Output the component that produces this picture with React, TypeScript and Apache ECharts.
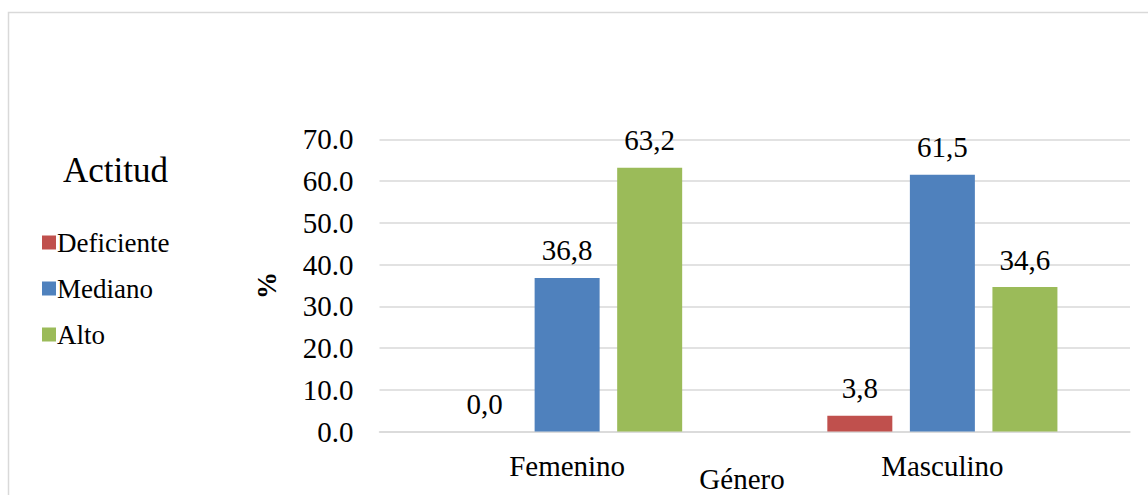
import React, { useEffect, useRef } from "react";
import * as echarts from "echarts";

const categories = ["Femenino", "Masculino"];
const seriesNames = ["Deficiente", "Mediano", "Alto"];
const deficiente = [0.0, 3.8];
const mediano = [36.8, 61.5];
const alto = [63.2, 34.6];
const seriesColors = ["#C0504D", "#4F81BD", "#9BBB59"];
const yMin = 0;
const yMax = 70;
const yStep = 10;

const FONT = "Liberation Serif";

export default function App() {
  const ref = useRef<HTMLDivElement>(null);

  useEffect(() => {
    if (!ref.current) return;
    const chart = echarts.init(ref.current, null, { renderer: "svg" });
    const values = [deficiente, mediano, alto];

    chart.setOption({
      animation: false,
      backgroundColor: "#ffffff",
      textStyle: { fontFamily: FONT, color: "#000" },
      title: {
        text: "Actitud",
        left: 58,
        top: 148,
        textStyle: { fontFamily: FONT, fontSize: 35, fontWeight: "normal", color: "#000" },
      },
      legend: {
        orient: "vertical",
        left: 37,
        top: 224,
        itemWidth: 14,
        itemHeight: 14,
        itemGap: 19,
        icon: "rect",
        data: seriesNames,
        textStyle: { fontFamily: FONT, fontSize: 27, color: "#000", padding: [0, 0, 0, -4] },
      },
      graphic: [
        {
          type: "rect",
          shape: { x: 8.5, y: 12.5, width: 1200, height: 600 },
          style: { fill: "none", stroke: "#d9d9d9", lineWidth: 1.5 },
          silent: true,
          z: -10,
        },
        {
          type: "text",
          x: 742,
          y: 479,
          style: {
            text: "Género",
            fontFamily: FONT,
            fontSize: 29,
            fill: "#000",
            align: "center",
            verticalAlign: "middle",
          },
        },
      ],
      grid: { left: 379.5, top: 139.3, width: 750.5, height: 292.2, containLabel: false },
      xAxis: {
        type: "category",
        data: categories,
        axisLine: { lineStyle: { color: "#d9d9d9", width: 1.5 } },
        axisTick: { show: false },
        axisLabel: { fontFamily: FONT, fontSize: 29, color: "#000", margin: 20 },
      },
      yAxis: {
        type: "value",
        min: yMin,
        max: yMax,
        interval: yStep,
        name: "%",
        nameLocation: "middle",
        nameRotate: 90,
        nameGap: 99,
        nameTextStyle: { fontFamily: FONT, fontSize: 27, fontWeight: "bold", color: "#000" },
        axisLine: { show: false },
        axisTick: { show: false },
        splitLine: { lineStyle: { color: "#d9d9d9", width: 1.5 } },
        axisLabel: {
          fontFamily: FONT,
          fontSize: 29,
          color: "#000",
          margin: 26,
          formatter: (v: number) => v.toFixed(1),
        },
      },
      series: seriesNames.map((name, i) => ({
        name,
        type: "bar",
        data: values[i],
        barWidth: 65,
        barGap: "27%",
        itemStyle: { color: seriesColors[i] },
        label: {
          show: true,
          position: "top",
          distance: 13,
          fontFamily: FONT,
          fontSize: 29,
          color: "#000",
          formatter: (p: any) => Number(p.value).toFixed(1).replace(".", ","),
        },
      })),
    });

    return () => chart.dispose();
  }, []);

  return (
    <div
      ref={ref}
      style={{ position: "absolute", left: 0, top: 0, width: 1148, height: 495 }}
    />
  );
}
